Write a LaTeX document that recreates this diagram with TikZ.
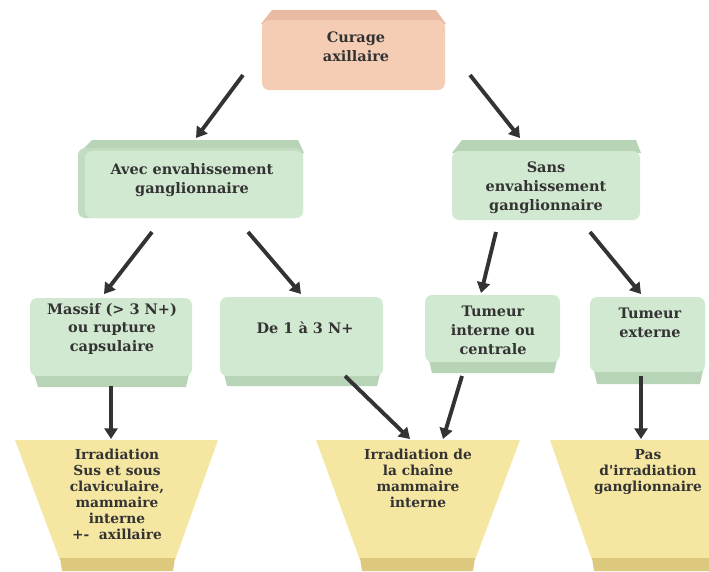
\documentclass[tikz,border=0pt]{standalone}
\usepackage{fontspec}
\setmainfont{DejaVu Serif}[Ligatures=TeXOff]
\usetikzlibrary{arrows.meta,calc}
\definecolor{pinkface}{HTML}{F5CCB4}
\definecolor{pinkedge}{HTML}{E8BBA2}
\definecolor{greenface}{HTML}{D2E9D1}
\definecolor{greenedge}{HTML}{B7D4B6}
\definecolor{greenside}{HTML}{C2DCC1}
\definecolor{yelface}{HTML}{F5E6A2}
\definecolor{yeledge}{HTML}{DCC97E}
\definecolor{inkgray}{HTML}{333333}
\begin{document}
\begin{tikzpicture}[x=0.85pt,y=-0.85pt,
  txt/.style={font=\bfseries\fontsize{12.3}{16}\selectfont, align=center, text=inkgray, inner sep=0pt},
  txtsmall/.style={font=\bfseries\fontsize{11.7}{13.6}\selectfont, align=center, text=inkgray, inner sep=0pt},
  arr/.style={line width=3.3pt, draw=inkgray, -{Triangle[length=9pt,width=11pt]}},
  face/.style={rounded corners=6pt},
]
\useasboundingbox (0,0) rectangle (709,571);

% ---------- top box ----------
\fill[pinkedge] (272,10) -- (436,10) -- (446,24) -- (261,24) -- cycle;
\fill[pinkface, face] (262,20) rectangle (445,90);

% ---------- second row ----------
\fill[greenedge] (92,140) -- (298,140) -- (304,153) -- (79,153) -- cycle;
\fill[greenside, face] (78,148) rectangle (303,218);
\fill[greenface, face] (85,151) rectangle (303,218);

\fill[greenedge] (462,140) -- (636,140) -- (641,153) -- (452,153) -- cycle;
\fill[greenface, face] (452,151) rectangle (640,220);

% ---------- third row ----------
\fill[greenedge] (33,370) -- (190,370) -- (186,387) -- (38,387) -- cycle;
\fill[greenface, face] (30,298) rectangle (192,376);

\fill[greenedge] (223,370) -- (381,370) -- (377,386) -- (227,386) -- cycle;
\fill[greenface, face] (220,297) rectangle (383,376);

\fill[greenedge] (428,356) -- (558,356) -- (554,373) -- (432,373) -- cycle;
\fill[greenface, face] (425,295) rectangle (560,362);

\fill[greenedge] (593,366) -- (704,366) -- (700,384) -- (597,384) -- cycle;
\fill[greenface, face] (590,297) rectangle (705,372);

% ---------- bottom trapezoids ----------
\fill[yelface] (15,440) -- (218,440) -- (175,560) -- (60,560) -- cycle;
\fill[yeledge] (60,558) -- (175,558) -- (173,571) -- (62,571) -- cycle;

\fill[yelface] (316,440) -- (520,440) -- (475,560) -- (360,560) -- cycle;
\fill[yeledge] (360,558) -- (475,558) -- (473,571) -- (362,571) -- cycle;

\fill[yelface] (550,440) -- (712,440) -- (712,560) -- (592,560) -- cycle;
\fill[yeledge] (592,558) -- (712,558) -- (712,571) -- (594,571) -- cycle;

% ---------- texts ----------
\node[txt] (cur) at (356,47) {Curage\\axillaire};
\node[txt] (avec) at (192,180) {Avec envahissement\\ganglionnaire};
\node[txt] (sans) at (546,188) {Sans\\envahissement\\ganglionnaire};
\node[txt] (mass) at (112,329) {Massif (> 3 N+)\\ou rupture\\capsulaire};
\node[txt] (de) at (305,328) {De 1 à 3 N+};
\node[txt] (tint) at (493,330) {Tumeur\\interne ou\\centrale};
\node[txt] (text) at (650,323) {Tumeur\\externe};
\node[txtsmall] (irr1) at (117,494) {Irradiation\\Sus et sous\\claviculaire,\\mammaire\\interne\\+-\ \ axillaire};
\node[txtsmall] (irr2) at (418,478) {Irradiation de\\la chaîne\\mammaire\\interne};
\node[txtsmall] (irr3) at (648,472) {Pas\\d'irradiation\\ganglionnaire};

% ---------- arrow anchors ----------
\coordinate (s1) at (243,75);  \coordinate (e1) at (196,138);
\coordinate (s2) at (470,75);  \coordinate (e2) at (520,138);
\coordinate (s3) at (152,232); \coordinate (e3) at (104,294);
\coordinate (s4) at (248,232); \coordinate (e4) at (301,294);
\coordinate (s5) at (496,232); \coordinate (e5) at (481,293);
\coordinate (s6) at (590,232); \coordinate (e6) at (641,294);
\coordinate (s7) at (111,386); \coordinate (e7) at (111,439);
\coordinate (s8) at (345,376); \coordinate (e8) at (410,439);
\coordinate (s9) at (462,376); \coordinate (e9) at (443,439);
\coordinate (s10) at (641,376); \coordinate (e10) at (641,439);

\foreach \i in {1,...,10} { \draw[arr] (s\i) -- (e\i); }
\end{tikzpicture}
\end{document}
